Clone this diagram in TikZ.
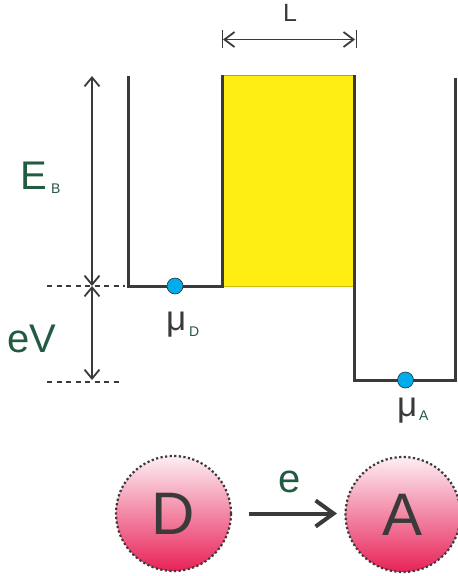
\documentclass[tikz,border=0pt]{standalone}
\usepackage{fontspec}
\setmainfont{Liberation Sans}
\usetikzlibrary{arrows.meta}
\definecolor{wallc}{RGB}{58,58,58}
\definecolor{lblc}{RGB}{34,90,66}
\definecolor{barc}{RGB}{255,238,17}
\definecolor{dotc}{RGB}{0,172,236}
\definecolor{pinktop}{RGB}{253,238,243}
\definecolor{pinkbot}{RGB}{232,34,88}
\begin{document}
\begin{tikzpicture}[x=1pt,y=-1pt,
  wallline/.style={draw=wallc,line width=3pt,line join=miter},
  dimarrow/.style={draw=wallc,line width=1.8pt,{Straight Barb[length=9pt,width=15pt]}-{Straight Barb[length=9pt,width=15pt]}},
  guide/.style={draw=wallc,line width=1.3pt,dash pattern=on 5pt off 4.5pt},
  elec/.style={circle,draw=wallc!80!black,line width=0.6pt,fill=dotc,minimum size=16pt,inner sep=0pt},
  site/.style={circle,minimum size=115pt,inner sep=0pt,top color=pinktop,bottom color=pinkbot,shading angle=0,
    draw=wallc,line width=2.2pt,dash pattern=on 2.2pt off 2.4pt,font=\fontsize{60}{60}\selectfont,text=wallc},
  biglbl/.style={text=lblc,inner sep=0pt,font=\fontsize{40}{40}\selectfont},
  sublbl/.style={text=lblc,inner sep=0pt,font=\fontsize{14}{14}\selectfont},
  mulbl/.style={text=wallc,inner sep=0pt,font=\fontsize{35}{35}\selectfont}]
\useasboundingbox (0,0) rectangle (458,576);

% barrier
\coordinate (bTL) at (222,75);
\coordinate (bBR) at (354,286);
\fill[barc] (bTL) rectangle (bBR);
\draw[gray!80,line width=0.8pt] (bTL) -- (354,75);
\draw[barc!80!black,line width=0.8pt] (222,286) -- (bBR);

% donor well
\coordinate (dTop) at (128,76);
\coordinate (dBL) at (128,286);
\coordinate (dBR) at (222,286);
\coordinate (dTR) at (222,75);
\draw[wallline] (dTop) -- (dBL) -- (dBR) -- (dTR);

% acceptor well
\coordinate (aTL) at (354,75);
\coordinate (aBL) at (354,380);
\coordinate (aBR) at (455,380);
\coordinate (aTop) at (455,78);
\draw[wallline] (aTL) -- (aBL) -- (aBR) -- (aTop);

% electrons
\node[elec] (muD) at (175,286) {};
\node[elec] (muA) at (405.5,380) {};

% chemical potential labels
\node[mulbl,anchor=base west] (muDt) at (166,330) {μ};
\node[sublbl,anchor=base west] (muDs) at (189,336) {D};
\node[mulbl,anchor=base west] (muAt) at (397,416) {μ};
\node[sublbl,anchor=base west] (muAs) at (419,420) {A};

% guide lines
\coordinate (g1a) at (47,286);
\coordinate (g1b) at (125,286);
\coordinate (g2a) at (47,382);
\coordinate (g2b) at (123,382);
\draw[guide] (g1a) -- (g1b);
\draw[guide] (g2a) -- (g2b);

% E_B and eV arrows
\coordinate (ebTop) at (92,76);
\coordinate (ebBot) at (92,286);
\coordinate (evBot) at (92,380);
\draw[dimarrow] (ebTop) -- (ebBot);
\draw[dimarrow] (ebBot) -- (evBot);
\node[biglbl,anchor=base west] (EB) at (20,189) {E};
\node[sublbl,anchor=base west] (EBs) at (51,193) {B};
\node[biglbl,anchor=base west] (eV) at (7,352) {eV};

% L dimension
\coordinate (Lt1) at (222,30);
\coordinate (Lb1) at (222,48);
\coordinate (Lt2) at (356,30);
\coordinate (Lb2) at (356,48);
\draw[wallc,line width=1pt] (Lt1) -- (Lb1);
\draw[wallc,line width=1pt] (Lt2) -- (Lb2);
\coordinate (La) at (223,39.5);
\coordinate (Lb) at (355,39.5);
\draw[wallc,line width=1.8pt,{Straight Barb[length=10pt,width=15pt]}-{Straight Barb[length=10pt,width=15pt]}] (La) -- (Lb);
\node[text=wallc,inner sep=0pt,font=\fontsize{25}{25}\selectfont,anchor=base west] (L) at (283,21) {L};

% donor / acceptor
\node[site] (D) at (173.5,513.5) {D};
\node[site] (A) at (403,514.5) {A};
\draw[wallc,line width=4pt,-{Straight Barb[length=18pt,width=26pt]}] (D.east) ++(16.5,0) -- (337,513.5);
\node[biglbl,anchor=base] (e) at (290,492) {e};
\end{tikzpicture}
\end{document}
